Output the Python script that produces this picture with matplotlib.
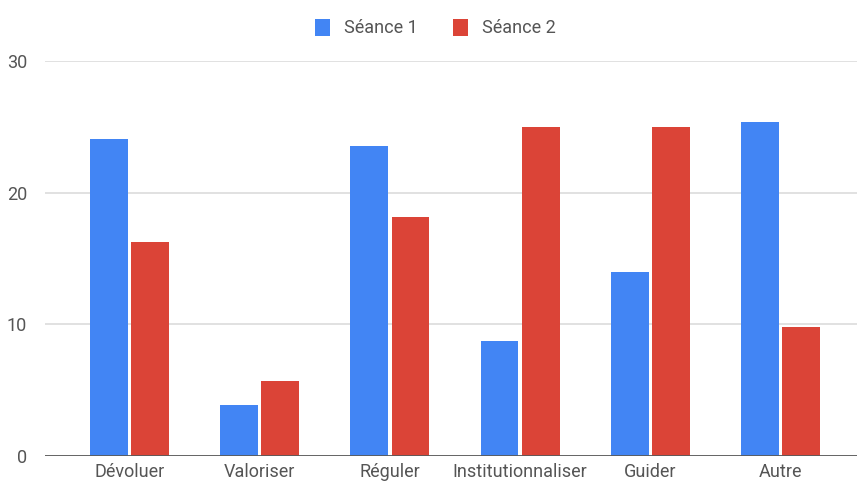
import numpy as np
import matplotlib.pyplot as plt

categories = ["Dévoluer", "Valoriser", "Réguler", "Institutionnaliser", "Guider", "Autre"]
seance1 = [24.1, 3.9, 23.55, 8.75, 14.0, 25.4]
seance2 = [16.25, 5.7, 18.15, 24.95, 24.95, 9.77]

plt.rcParams['font.family'] = ['Roboto', 'DejaVu Sans']

fig = plt.figure(figsize=(8.57, 4.82), dpi=100)
# l'axe deborde a droite, comme dans l'original
ax = fig.add_axes([45/857, 26/482, 820/857, 395/482])

x = np.arange(len(categories))
w = 0.29
off = 0.158
ax.bar(x - off, seance1, w, color='#4285F4', label='Séance 1', zorder=3)
ax.bar(x + off, seance2, w, color='#DB4437', label='Séance 2', zorder=3)

ax.set_xlim(-0.65, 5.65)
ax.set_ylim(0, 30)
ax.set_yticks([0, 10, 20, 30])
ax.set_xticks(x)
ax.set_xticklabels(categories)
ax.grid(axis='y', color='#dcdcdc', linewidth=1.2, zorder=0)
ax.axhline(0, color='#5a5a5a', linewidth=1.3, zorder=4)
for s in ax.spines.values():
    s.set_visible(False)
ax.tick_params(axis='both', length=0, labelsize=13, colors='#555555')
ax.tick_params(axis='y', pad=13)
ax.tick_params(axis='x', pad=5)

fig.legend(loc='upper center', bbox_to_anchor=(0.508, 0.995), ncol=2, frameon=False,
           fontsize=13, handlelength=0.85, handleheight=1.1, handletextpad=0.8,
           columnspacing=1.9, labelcolor='#555555')

fig.savefig('out.png', dpi=100)
